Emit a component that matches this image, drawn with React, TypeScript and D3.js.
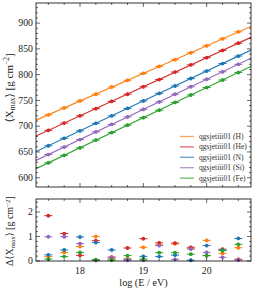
import React from 'react';
import * as d3 from 'd3';

// log10(E/eV) bin centres
const energies = [17.5, 17.75, 18, 18.25, 18.5, 18.75, 19, 19.25, 19.5, 19.75, 20, 20.25, 20.5];

const labels = ['qgsjetiii01 (H)', 'qgsjetiii01 (He)', 'qgsjetiii01 (N)', 'qgsjetiii01 (Si)', 'qgsjetiii01 (Fe)'];
const colors = ['#ff7f0e', '#d62728', '#1f77b4', '#9467bd', '#2ca02c'];

// <Xmax> [g cm^-2]
const xmaxH = [722, 735.5, 749, 762, 776, 789, 802.5, 816, 829, 842.5, 856, 869.5, 883];
const xmaxHe = [692, 706, 720, 734, 748, 762, 776.5, 790.5, 805, 819, 833, 847, 861];
const xmaxN = [662, 676.5, 691, 705.5, 720, 734.5, 749, 763.5, 778, 792.5, 807, 821.5, 836];
const xmaxSi = [645, 659.5, 674, 689, 703.5, 718, 732.5, 747, 762, 776.5, 791, 805.5, 820];
const xmaxFe = [629, 643.5, 658, 673, 687.5, 702, 716.5, 731, 746, 760.5, 775, 789.5, 804];

// Delta<Xmax> [g cm^-2]
const dH = [0.18, 0.35, 0.59, 1.0, 0.08, 0.1, 0.56, 0.66, 0.7, 0.5, 0.84, 0.31, 0.54];
const dHe = [1.85, 1.12, 0.23, 0.83, 0.16, 0.53, 0.91, 0.74, 0.73, 0.56, 0.22, 0.48, 0.07];
const dN = [0.25, 0.45, 0.98, 0.75, 0.45, 0.05, 0.19, 0.18, 0.24, 0.03, 0.63, 0.45, 0.92];
const dSi = [0.99, 0.99, 0.71, 0.02, 0.13, 0.03, 0.03, 0.63, 0.07, 0.49, 0.35, 0.15, 0.04];
const dFe = [0.08, 0.18, 0.35, 0.06, 0.04, 0.22, 0.08, 0.34, 0.34, 0.28, 0.22, 0.42, 0.68];

const meanSeries = [xmaxH, xmaxHe, xmaxN, xmaxSi, xmaxFe];
const deltaSeries = [dH, dHe, dN, dSi, dFe];

const yTicksTop = [600, 650, 700, 750, 800, 850, 900];
const yTicksBottom = [0, 1, 2];
const xTicks = [18, 19, 20];

const W = 254;
const H = 291;
const left = 36;
const right = 251;
const topY0 = 3;
const topY1 = 187;
const botY0 = 199;
const botY1 = 261;

const font = 'Liberation Serif, DejaVu Serif, serif';

function fit(ys: number[]) {
  const mx = d3.mean(energies) || 0;
  const my = d3.mean(ys) || 0;
  const sxy = d3.sum(energies, (x, i) => (x - mx) * (ys[i] - my));
  const sxx = d3.sum(energies, x => (x - mx) * (x - mx));
  const b = sxy / sxx;
  return { a: my - b * mx, b };
}

function Frame({ x, y, yMajor, yMinor }: { x: d3.ScaleLinear<number, number>; y: d3.ScaleLinear<number, number>; yMajor: number[]; yMinor: number[] }) {
  const [x0, x1] = x.range();
  const [yb, yt] = y.range();
  const xMinor = d3.range(17.25, 20.75, 0.25).filter(v => v > x.domain()[0] && v < x.domain()[1]);
  const tick = (k: string, x1_: number, y1_: number, x2_: number, y2_: number) => (
    <line key={k} x1={x1_} y1={y1_} x2={x2_} y2={y2_} stroke="#000" strokeWidth={0.6} />
  );
  return (
    <g>
      {xMinor.map(v => {
        const major = xTicks.includes(v);
        const l = major ? 4 : 2;
        return (
          <g key={'x' + v}>
            {tick('b', x(v), yb, x(v), yb - l)}
            {tick('t', x(v), yt, x(v), yt + l)}
          </g>
        );
      })}
      {yMinor.map(v => {
        const major = yMajor.some(m => Math.abs(m - v) < 1e-9);
        const l = major ? 4 : 2;
        return (
          <g key={'y' + v}>
            {tick('l', x0, y(v), x0 + l, y(v))}
            {tick('r', x1, y(v), x1 - l, y(v))}
          </g>
        );
      })}
      <rect x={x0} y={yt} width={x1 - x0} height={yb - yt} fill="none" stroke="#000" strokeWidth={0.8} />
      {yMajor.map(v => (
        <text key={'yl' + v} x={x0 - 3} y={y(v)} dy="0.33em" textAnchor="end" fontSize={9.8} fontFamily={font} fill="#222">
          {v}
        </text>
      ))}
    </g>
  );
}

function Marker({ cx, cy, color }: { cx: number; cy: number; color: string }) {
  return (
    <g>
      <line x1={cx - 4} x2={cx + 4} y1={cy} y2={cy} stroke={color} strokeWidth={1} />
      <line x1={cx} x2={cx} y1={cy - 1.6} y2={cy + 1.6} stroke={color} strokeWidth={1} />
      <circle cx={cx} cy={cy} r={1.9} fill={color} />
    </g>
  );
}

export default function App() {
  const x = d3.scaleLinear().domain([17.305, 20.7]).range([left, right]);
  const yTop = d3.scaleLinear().domain([582, 939]).range([topY1, topY0]);
  const yBot = d3.scaleLinear().domain([0, 2.53]).range([botY1, botY0]);

  const topMinor = d3.range(590, 940, 10);
  const botMinor = d3.range(0, 2.5, 0.2).map(v => Math.round(v * 10) / 10);

  return (
    <svg width={W} height={H} style={{ position: 'absolute', left: 0, top: 0, background: '#fff' }}>
      <defs>
        <clipPath id="topClip">
          <rect x={left} y={topY0} width={right - left} height={topY1 - topY0} />
        </clipPath>
      </defs>

      {/* upper panel: mean Xmax */}
      <g clipPath="url(#topClip)">
        {meanSeries.map((ys, s) => {
          const f = fit(ys);
          const [d0, d1] = x.domain();
          return (
            <line
              key={'fit' + s}
              x1={x(d0)}
              y1={yTop(f.a + f.b * d0)}
              x2={x(d1)}
              y2={yTop(f.a + f.b * d1)}
              stroke={colors[s]}
              strokeWidth={1.1}
            />
          );
        })}
        {meanSeries.map((ys, s) =>
          ys.map((v, i) => <Marker key={s + '-' + i} cx={x(energies[i])} cy={yTop(v)} color={colors[s]} />)
        )}
      </g>
      <Frame x={x} y={yTop} yMajor={yTicksTop} yMinor={topMinor} />

      {/* legend */}
      {labels.map((lab, s) => {
        const ly = 136.5 + s * 10.4;
        return (
          <g key={lab}>
            <line x1={180} x2={194} y1={ly} y2={ly} stroke={colors[s]} strokeOpacity={0.7} strokeWidth={1.3} />
            <text x={199} y={ly} dy="0.33em" fontSize={7.6} fontFamily={font} fill="#333">
              {lab}
            </text>
          </g>
        );
      })}

      {/* lower panel: uncertainty */}
      {deltaSeries.map((ys, s) =>
        ys.map((v, i) => <Marker key={'d' + s + '-' + i} cx={x(energies[i])} cy={yBot(v)} color={colors[s]} />)
      )}
      <Frame x={x} y={yBot} yMajor={yTicksBottom} yMinor={botMinor} />

      {xTicks.map(v => (
        <text key={'xl' + v} x={x(v)} y={273.5} textAnchor="middle" fontSize={9.8} fontFamily={font} fill="#222">
          {v}
        </text>
      ))}
      <text x={(left + right) / 2} y={286} textAnchor="middle" fontSize={10.2} fontFamily={font} fill="#222">
        log (E / eV)
      </text>

      <text transform={`translate(13, 88) rotate(-90)`} textAnchor="middle" fontSize={11} fontFamily={font} fill="#222">
        {'⟨X'}
        <tspan fontSize={7.5} dy={2.2}>max</tspan>
        <tspan dy={-2.2}>{'⟩ [g cm'}</tspan>
        <tspan fontSize={7.5} dy={-4}>−2</tspan>
        <tspan dy={4}>]</tspan>
      </text>
      <text transform={`translate(13, 231) rotate(-90)`} textAnchor="middle" fontSize={10} fontFamily={font} fill="#222">
        {'Δ⟨X'}
        <tspan fontSize={7} dy={2}>max</tspan>
        <tspan dy={-2}>{'⟩ [g cm'}</tspan>
        <tspan fontSize={7} dy={-3.5}>−2</tspan>
        <tspan dy={3.5}>]</tspan>
      </text>
    </svg>
  );
}
